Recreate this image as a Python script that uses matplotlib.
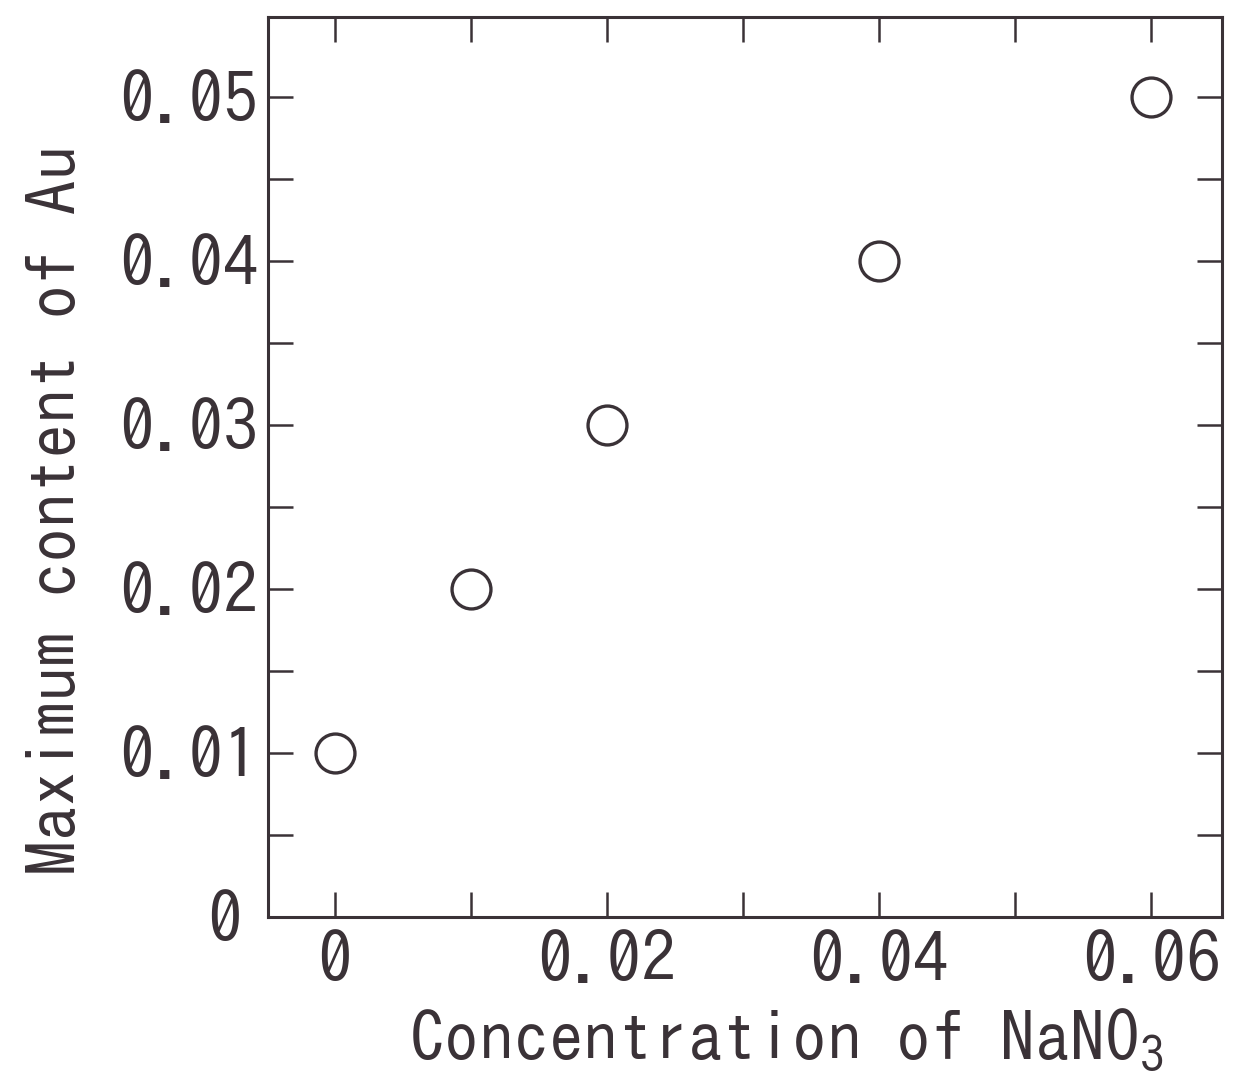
import matplotlib
matplotlib.use("Agg")
import matplotlib.pyplot as plt
from matplotlib.ticker import MultipleLocator, FixedLocator, FixedFormatter
from matplotlib.transforms import ScaledTranslation

# Data: NaNO3 concentration vs. maximum Au content
nano3_conc = [0.0, 0.01, 0.02, 0.04, 0.06]
au_max = [0.01, 0.02, 0.03, 0.04, 0.05]

x_tick_vals = [0.0, 0.02, 0.04, 0.06]
x_tick_labels = ["0", "0.02", "0.04", "0.06"]
y_tick_vals = [0.0, 0.01, 0.02, 0.03, 0.04, 0.05]
y_tick_labels = ["0", "0.01", "0.02", "0.03", "0.04", "0.05"]

ink = "#3a3237"
families = ["IPAGothic", "M PLUS 1 Code", "DejaVu Sans Mono"]
plt.rcParams["font.family"] = families
plt.rcParams["mathtext.fontset"] = "custom"
plt.rcParams["mathtext.rm"] = "IPAGothic"
plt.rcParams["mathtext.default"] = "regular"

W, H = 1235, 1074
fig = plt.figure(figsize=(W / 100, H / 100), dpi=100)
ax = fig.add_axes([268 / W, 1 - 917 / H, (1222 - 268) / W, (917 - 17) / H])

ax.plot(nano3_conc, au_max, linestyle="none", marker="o", markersize=28,
        markerfacecolor="none", markeredgecolor=ink, markeredgewidth=2.4)

ax.set_xlim(-0.0049, 0.0652)
ax.set_ylim(0.0, 0.0549)

ax.xaxis.set_major_locator(FixedLocator(x_tick_vals))
ax.xaxis.set_major_formatter(FixedFormatter(x_tick_labels))
ax.xaxis.set_minor_locator(MultipleLocator(0.01))
ax.yaxis.set_major_locator(FixedLocator(y_tick_vals))
ax.yaxis.set_major_formatter(FixedFormatter(y_tick_labels))
ax.yaxis.set_minor_locator(MultipleLocator(0.005))

for s in ax.spines.values():
    s.set_color(ink)
    s.set_linewidth(2.2)

fs = 50
ax.tick_params(which="both", direction="in", top=True, right=True,
               color=ink, width=1.8, length=18, labelsize=fs, labelcolor=ink)
ax.tick_params(axis="x", which="major", pad=10)
ax.tick_params(axis="y", which="major", pad=7)

# the zero label on the y axis sits a little further left than the others
zero_label = ax.yaxis.get_major_ticks()[0].label1
zero_label.set_transform(zero_label.get_transform()
                         + ScaledTranslation(-16 / 100, 0, fig.dpi_scale_trans))

ax.text((786 - 268) / (1222 - 268), -(1061 - 917) / (917 - 17),
        "Concentration of NaNO$_{3}$", transform=ax.transAxes,
        ha="center", va="baseline", fontsize=fs, color=ink)
ax.text(-(268 - 78) / (1222 - 268), (917 - 510) / (917 - 17),
        "Maximum content of Au", transform=ax.transAxes, rotation=90,
        rotation_mode="anchor", ha="center", va="baseline",
        fontsize=fs, color=ink)

fig.savefig("out.png", dpi=100, facecolor="white")
